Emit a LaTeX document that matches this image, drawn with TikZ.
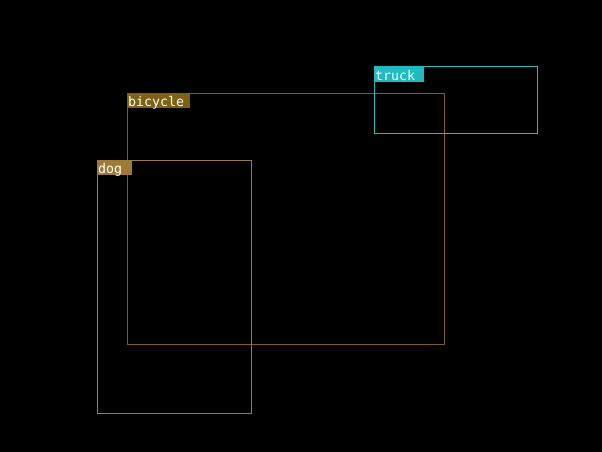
\documentclass[tikz,border=0pt]{standalone}
\usepackage{fontspec}
\setmonofont{DejaVu Sans Mono}
\usepackage{tikz}
\usetikzlibrary{positioning}
\definecolor{bicyclecol}{RGB}{128,96,20}
\definecolor{dogcol}{RGB}{158,122,52}
\definecolor{truckcol}{RGB}{30,188,190}

\begin{document}
\begin{tikzpicture}[x=1pt, y=-1pt]
	\tikzstyle{detbox} = [rectangle, draw, line width = 1pt, inner sep = 0pt]
	\tikzstyle{tag} = [rectangle, anchor = north west, inner xsep = 1.5pt, inner ysep = 0pt, text height = 13.5pt, text depth = 1.5pt, text = white, font = \ttfamily\fontsize{13.3}{14}\selectfont, align = left]
	\fill[black] (0, 0) rectangle (602, 452);
	\useasboundingbox (0, 0) rectangle (602, 452);

	\node[detbox, draw = bicyclecol, minimum width = 317pt, minimum height = 251pt] at (285.5, 218.5) (bicycle) {};
	\node[detbox, draw = dogcol, minimum width = 154pt, minimum height = 253pt] at (174, 287) (dog) {};
	\node[detbox, draw = truckcol, minimum width = 163pt, minimum height = 66pt] at (455.5, 100) (truck) {};

	\node[tag, fill = bicyclecol, text width = 60pt] at (bicycle.north west) (bicyclelabel) {bicycle};
	\node[tag, fill = dogcol, text width = 32pt] at (dog.north west) (doglabel) {dog};
	\node[tag, fill = truckcol, text width = 47pt] at (truck.north west) (trucklabel) {truck};
\end{tikzpicture}
\end{document}
